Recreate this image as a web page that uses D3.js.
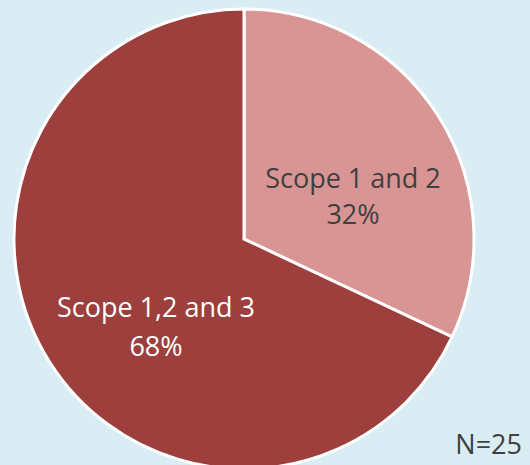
<!DOCTYPE html>
<html>
<head>
<meta charset="utf-8">
<script src="https://cdn.jsdelivr.net/npm/d3@7"></script>
<style>
  body { margin: 0; background: #daedf4; }
  svg { display: block; }
</style>
</head>
<body>
<div id="chart"></div>
<script>
const categories = ['Scope 1 and 2', 'Scope 1,2 and 3']
const shares = [32, 68]
const colors = ['#d99594', '#9c3f3d']
const note = 'N=25'

const width = 530, height = 465
const cx = 244, cy = 239, radius = 230

const data = categories.map((c, i) => ({ name: c, value: shares[i] }))

const svg = d3.select('#chart').append('svg')
    .attr('width', width)
    .attr('height', height)
    .style('background', '#daedf4')

const g = svg.append('g')
    .attr('transform', 'translate(' + cx + ',' + cy + ')')

const pie = d3.pie().sort(null).value(d => d.value)
const arc = d3.arc().innerRadius(0).outerRadius(radius)
// labels sit a bit past the middle of each slice
const labelArc = d3.arc().innerRadius(radius * 0.52).outerRadius(radius * 0.52)
const labelNudge = [[8, 13], [13, 14]]

const arcs = pie(data)

g.selectAll('path')
    .data(arcs)
    .enter()
    .append('path')
    .attr('d', arc)
    .style('fill', (_, i) => colors[i])
    .style('stroke', '#fff')
    .style('stroke-width', 3)

const labels = g.selectAll('text.lbl')
    .data(arcs)
    .enter()
    .append('text')
    .classed('lbl', true)
    .attr('transform', (d, i) => {
        const [x, y] = labelArc.centroid(d)
        return 'translate(' + (x + labelNudge[i][0]) + ',' + (y + labelNudge[i][1]) + ')'
    })
    .attr('text-anchor', 'middle')
    .style('font-family', 'Open Sans, Liberation Sans, sans-serif')
    .style('font-size', '27px')
    .style('fill', (_, i) => i === 0 ? '#404040' : '#ffffff')

labels.append('tspan')
    .attr('x', 0)
    .attr('y', 0)
    .text(d => d.data.name)

labels.append('tspan')
    .attr('x', 0)
    .attr('y', (_, i) => i === 0 ? 36 : 39)
    .text(d => d.data.value + '%')

svg.append('text')
    .attr('x', 522)
    .attr('y', 454)
    .attr('text-anchor', 'end')
    .style('font-family', 'Open Sans, Liberation Sans, sans-serif')
    .style('font-size', '27px')
    .style('fill', '#404040')
    .text(note)
</script>
</body>
</html>
